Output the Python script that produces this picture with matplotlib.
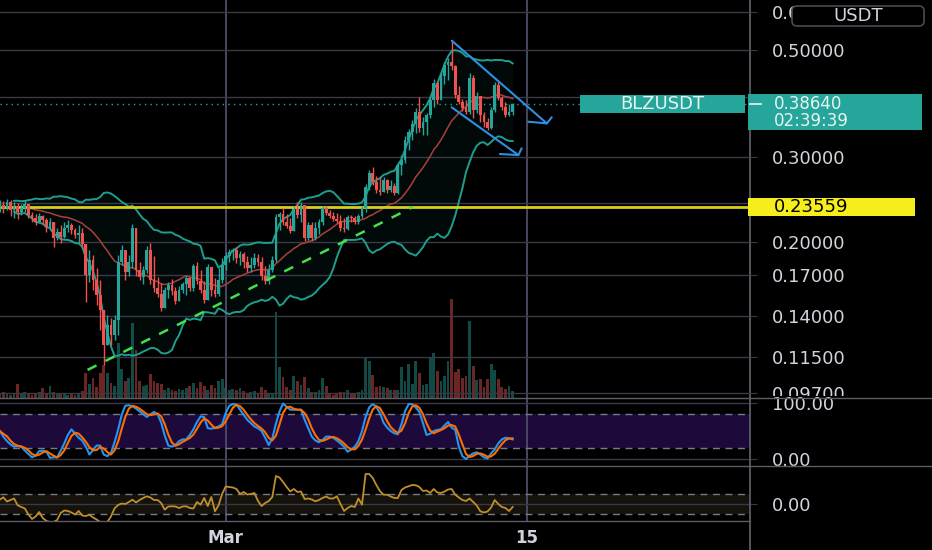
import numpy as np
import pandas as pd
import matplotlib
matplotlib.use("Agg")
import matplotlib.pyplot as plt
import matplotlib.dates as mdates
from matplotlib.lines import Line2D
from matplotlib.patches import Rectangle, FancyBboxPatch
from matplotlib.transforms import IdentityTransform, Bbox, TransformedBbox
from matplotlib.ticker import NullLocator

# 4h candles, BLZ/USDT, from 2021-02-18 12:00
open_first = 0.2348
close = np.array([0.2382,0.2348,0.2416,0.2325,0.2370,0.2303,0.2348,0.2393,0.2270,0.2238,0.2196,0.2260,0.2217,0.2144,0.2196,0.2034,0.2093,0.2044,0.2133,0.2164,0.2113,0.2063,0.2083,0.1976,0.1704,0.1831,0.1664,0.1548,0.1441,0.1219,0.1341,0.1279,0.1374,0.1813,0.1920,0.1728,0.1813,0.2133,0.1745,0.1688,0.1745,0.1920,0.1664,0.1601,0.1556,0.1455,0.1586,0.1624,0.1578,0.1505,0.1586,0.1632,0.1680,0.1601,0.1779,0.1656,0.1586,0.1512,0.1770,0.1586,0.1556,0.1664,0.1787,0.1866,0.1902,0.1920,0.1848,0.1884,0.1813,0.1762,0.1787,0.1848,0.1813,0.1696,0.1656,0.1745,0.1831,0.2249,0.2281,0.2196,0.2154,0.2103,0.2337,0.2270,0.2382,0.2034,0.2164,0.2034,0.2133,0.2196,0.2348,0.2292,0.2260,0.2227,0.2206,0.2133,0.2123,0.2249,0.2238,0.2196,0.2260,0.2348,0.2596,0.2776,0.2659,0.2559,0.2535,0.2684,0.2559,0.2608,0.2522,0.2884,0.2954,0.3251,0.3377,0.3509,0.3717,0.3443,0.3543,0.3664,0.3936,0.4270,0.3936,0.4415,0.4654,0.4721,0.4632,0.4031,0.3899,0.3788,0.3717,0.4373,0.3752,0.4012,0.3664,0.3543,0.3443,0.3752,0.4229,0.3974,0.3807,0.3664,0.3717,0.3864])
high = np.array([0.2439,0.2428,0.2451,0.2439,0.2416,0.2405,0.2393,0.2439,0.2393,0.2303,0.2281,0.2292,0.2270,0.2238,0.2238,0.2196,0.2133,0.2164,0.2196,0.2217,0.2185,0.2133,0.2164,0.2133,0.1976,0.1920,0.1875,0.1762,0.1664,0.1441,0.1407,0.1387,0.1407,0.1875,0.1967,0.1920,0.1875,0.2175,0.2133,0.1813,0.1779,0.1957,0.1986,0.1866,0.1688,0.1640,0.1609,0.1648,0.1672,0.1609,0.1616,0.1648,0.1696,0.1688,0.1796,0.1813,0.1745,0.1656,0.1796,0.1770,0.1680,0.1762,0.1848,0.1902,0.1930,0.1939,0.1948,0.1911,0.1902,0.1866,0.1857,0.1893,0.1884,0.1857,0.1779,0.1796,0.1866,0.2281,0.2303,0.2348,0.2281,0.2238,0.2370,0.2416,0.2416,0.2382,0.2196,0.2196,0.2196,0.2227,0.2370,0.2370,0.2325,0.2303,0.2292,0.2270,0.2238,0.2270,0.2270,0.2260,0.2281,0.2370,0.2633,0.2816,0.2857,0.2736,0.2723,0.2723,0.2697,0.2684,0.2646,0.2926,0.3025,0.3313,0.3426,0.3577,0.3788,0.3993,0.3629,0.3699,0.4012,0.4352,0.4290,0.4500,0.4721,0.4812,0.5245,0.4654,0.4209,0.3955,0.3936,0.4479,0.4436,0.4090,0.4012,0.3717,0.3611,0.3807,0.4290,0.4290,0.4012,0.3899,0.3862,0.3880])
low = np.array([0.2303,0.2292,0.2325,0.2260,0.2238,0.2227,0.2270,0.2303,0.2238,0.2196,0.2164,0.2185,0.2175,0.2093,0.2113,0.1948,0.2014,0.1986,0.2034,0.2093,0.2073,0.2034,0.1986,0.1939,0.1497,0.1648,0.1586,0.1476,0.1310,0.1108,0.1219,0.1219,0.1248,0.1279,0.1787,0.1664,0.1696,0.1762,0.1696,0.1664,0.1632,0.1720,0.1632,0.1571,0.1534,0.1434,0.1455,0.1526,0.1548,0.1483,0.1505,0.1563,0.1548,0.1578,0.1578,0.1632,0.1563,0.1490,0.1512,0.1541,0.1534,0.1541,0.1640,0.1745,0.1813,0.1831,0.1805,0.1787,0.1762,0.1728,0.1728,0.1762,0.1779,0.1664,0.1632,0.1632,0.1728,0.1813,0.2113,0.2164,0.2133,0.2083,0.2103,0.2238,0.2196,0.2005,0.2014,0.2005,0.2014,0.2073,0.2164,0.2270,0.2238,0.2206,0.2185,0.2103,0.2093,0.2113,0.2196,0.2175,0.2175,0.2238,0.2303,0.2559,0.2621,0.2522,0.2498,0.2535,0.2522,0.2535,0.2498,0.2510,0.2749,0.2912,0.3099,0.3251,0.3361,0.3377,0.3329,0.3329,0.3611,0.3807,0.3862,0.3936,0.4249,0.4331,0.4544,0.3974,0.3862,0.3734,0.3681,0.3681,0.3611,0.3699,0.3543,0.3459,0.3410,0.3426,0.3717,0.3936,0.3752,0.3629,0.3646,0.3664])
opens = np.r_[open_first, close[:-1]]

# volume, millions
volume = np.array([0.4,0.6,0.5,0.3,0.5,1.4,0.4,0.6,0.5,0.3,0.4,0.6,1.0,0.5,1.2,0.6,0.4,0.5,0.4,0.3,
                   0.4,0.3,0.4,0.7,2.5,1.4,2.0,1.1,2.5,3.3,2.5,1.5,1.2,5.5,2.9,1.7,2.0,7.5,4.8,1.7,
                   1.2,1.3,2.4,1.7,1.5,1.4,0.8,1.0,0.8,0.7,0.9,0.8,1.0,1.2,1.5,1.0,1.6,1.2,0.8,1.3,
                   1.0,1.7,1.9,1.0,0.8,0.9,0.8,1.0,0.7,0.5,0.6,0.7,0.5,1.1,0.8,0.5,0.5,8.6,3.1,2.1,
                   1.1,0.8,2.2,1.7,1.3,2.1,1.0,0.6,0.6,0.8,2.0,1.2,0.5,0.3,0.4,0.6,0.6,0.8,0.5,0.5,
                   0.6,0.8,4.0,3.7,2.3,1.1,1.2,1.1,1.0,0.8,0.8,0.8,3.1,1.7,3.4,1.4,3.7,2.5,1.3,1.4,
                   4.0,4.5,2.7,1.7,2.2,3.7,9.9,2.6,2.9,2.0,2.2,7.7,3.2,1.8,1.9,1.1,1.9,3.4,2.8,1.9,
                   1.1,0.9,1.2,0.7])

stoch_k = np.array([50,40,32,26,22,23,22,15,9,3,6,14,15,13,2,3,3,15,28,43,
                    53,45,38,33,22,8,16,24,24,8,5,11,30,52,79,95,96,94,90,85,
                    80,75,80,84,80,65,42,24,22,25,32,35,35,43,53,66,76,75,55,54,
                    56,58,62,82,95,98,97,88,79,70,64,58,55,50,38,25,37,63,85,99,
                    93,88,88,88,88,70,55,40,33,30,34,40,40,38,33,28,22,13,17,22,
                    32,50,75,92,98,93,82,65,56,50,46,44,62,85,98,98,92,84,64,43,
                    45,50,52,53,60,66,56,52,22,5,0,6,10,12,8,3,1,10,17,28,
                    35,38,37,35], float)

cci = np.array([43,67,25,40,55,-13,-30,-45,-105,-150,-125,-80,-140,-170,-180,-180,-160,-90,-65,-70,
                -85,-105,-70,-115,-120,-107,-135,-155,-180,-185,-180,-125,-45,-10,5,0,20,43,15,40,
                60,77,65,40,40,10,-57,-25,-23,-25,-40,-25,-23,-40,-45,20,-7,60,-20,70,
                -73,-13,100,175,170,165,150,100,120,95,100,110,30,-20,10,30,70,280,265,220,
                170,125,150,120,125,50,55,45,27,40,60,75,55,55,77,0,-70,-40,-20,-30,
                55,-7,300,300,260,190,130,93,93,75,60,60,140,165,177,190,188,170,130,135,
                110,150,115,110,125,145,150,93,65,40,30,55,20,-15,-73,-85,-75,-35,40,0,
                -30,-40,-70,-30], float)

price_ticks = [0.6, 0.5, 0.4, 0.3, 0.24, 0.2, 0.17, 0.14, 0.115, 0.097]
hidden_ticks = [0.4, 0.24]
level = 0.23559
last_price = close[-1]
countdown = "02:39:39"
symbol = "BLZUSDT"
# drawings: (days after Mar 1, price)
upper_channel = [(10.51, 0.5227), (14.92, 0.352)]
upper_arrow = [(14.06, 0.3548), (14.92, 0.352), (15.15, 0.3624)]
lower_channel = [(10.50, 0.3801), (13.60, 0.3025)]
lower_arrow = [(12.74, 0.304), (13.60, 0.3025), (13.75, 0.3124)]
trend_line = [(-6.42, 0.1082), (8.70, 0.2359)]

UP, DOWN = "#26a69a", "#ef5350"
GRID = "#3a3a47"
SEP = "#5c5c66"
TXT = "#d1d4dc"
W, H = 932, 550
FS = 13

dates = pd.date_range("2021-02-18 12:00", periods=len(close), freq="4h")
xd = mdates.date2num(dates)
mar1 = mdates.date2num(pd.Timestamp("2021-03-01"))
mar15 = mdates.date2num(pd.Timestamp("2021-03-15"))

plt.rcParams["font.family"] = ["DejaVu Sans"]
fig = plt.figure(figsize=(W / 100, H / 100), dpi=100, facecolor="black")


def rect(x0, y0, x1, y1):
    return [x0 / W, 1 - y1 / H, (x1 - x0) / W, (y1 - y0) / H]


ax = fig.add_axes(rect(0, 0, 750, 398))
axS = fig.add_axes(rect(0, 398, 750, 466), sharex=ax)
axC = fig.add_axes(rect(0, 466, 750, 521), sharex=ax)
vax = ax.twinx()
ax.set_zorder(2)
vax.set_zorder(1)
ax.patch.set_visible(False)
vax.patch.set_visible(False)

for a in (ax, axS, axC, vax):
    for s in a.spines.values():
        s.set_visible(False)
for a in (axS, axC):
    a.set_facecolor("black")

ax.set_xlim(mar1 - 10.488, mar1 + 24.363)

# volume underlay
cols = np.where(close >= opens, UP, DOWN)
vax.bar(xd, volume, width=0.13, color=cols, alpha=0.45, lw=0)
vax.set_ylim(0, volume.max() * 4.02)
vax.set_yticks([])

# bollinger bands (20, 2) and basis
s = pd.Series(close)
basis = s.rolling(20, min_periods=5).mean()
dev = s.rolling(20, min_periods=5).std(ddof=0)
upper = basis + 2 * dev
lower = basis - 2 * dev
ax.fill_between(xd, lower, upper, color="#26a69a", alpha=0.06, lw=0)
ax.plot(xd, upper, color="#1f9e8d", lw=1.4)
ax.plot(xd, lower, color="#1f9e8d", lw=1.4)
ax.plot(xd, basis, color="#a8413c", lw=1.1)

# candles
ax.vlines(xd, low, high, colors=cols, lw=1, zorder=3)
ax.bar(xd, np.abs(close - opens), bottom=np.minimum(opens, close), width=0.13,
       color=cols, lw=0, zorder=3)

ax.axhline(level, color="#d8cf1d", lw=2, zorder=2)
ax.axhline(last_price, color=UP, lw=1, ls=(0, (1, 3)), zorder=2)


def seg(points, **kw):
    ax.plot([mar1 + d for d, _ in points], [p for _, p in points], **kw)


seg(trend_line, color="#45e04a", lw=1.8, ls=(0, (4, 4)), zorder=4)
for pts in (upper_channel, upper_arrow, lower_channel, lower_arrow):
    seg(pts, color="#2f8fe0", lw=1.5, zorder=4, solid_capstyle="round")

ax.set_yscale("log")
ax.set_ylim(0.0946, 0.6352)
ax.yaxis.set_minor_locator(NullLocator())
ax.set_yticks(price_ticks)
ax.set_yticklabels(["" if t in hidden_ticks else f"{t:.5f}" for t in price_ticks])

# stochastic rsi
stoch_d = pd.Series(stoch_k).rolling(3, min_periods=1).mean()
axS.axhspan(20, 80, color="#1d0a3a", lw=0)
for v in (20, 80):
    axS.axhline(v, color="#787b86", lw=1, ls=(0, (5, 4)))
axS.plot(xd, stoch_k, color="#2196f3", lw=1.5)
axS.plot(xd, stoch_d, color="#ff6d00", lw=1.5)
axS.set_ylim(-12.5, 108.9)
axS.set_yticks([0, 100])
axS.set_yticklabels(["0.00", "100.00"])

# cci
axC.axhspan(-100, 100, color="#14120a", lw=0)
for v in (-100, 100):
    axC.axhline(v, color="#787b86", lw=1, ls=(0, (5, 4)))
axC.plot(xd, cci, color="#c08f2b", lw=1.3)
axC.set_ylim(-170, 380)
axC.set_yticks([0])
axC.set_yticklabels(["0.00"])

for a in (ax, axS, axC):
    a.yaxis.tick_right()
    a.grid(axis="y", color=GRID, lw=1)
    a.grid(axis="x", visible=False)
    a.tick_params(axis="y", length=5, color=GRID, pad=11, labelsize=FS, labelcolor=TXT)
    a.tick_params(axis="x", length=0)
    for d in (mar1, mar15):
        a.axvline(d, color="#4d4d6a", lw=1.3, zorder=1)
ax.tick_params(axis="x", labelbottom=False)
axS.tick_params(axis="x", labelbottom=False)
axC.set_xticks([mar1, mar15])
axC.set_xticklabels(["Mar", "15"], fontweight="bold")
axC.tick_params(axis="x", labelsize=12, labelcolor=TXT, pad=6)

# pane separators
for y, x1 in ((398, W), (466, W), (521, 750)):
    fig.add_artist(Line2D([0, x1], [H - y, H - y], transform=IdentityTransform(),
                          color=SEP, lw=1))
fig.add_artist(Line2D([750, 750], [0, H], transform=IdentityTransform(), color=SEP, lw=1.3))


def row(p):
    return ax.transData.transform((ax.get_xlim()[0], p))[1]


yl = row(last_price)
fig.add_artist(Rectangle((580, yl - 9), 165, 18, transform=IdentityTransform(),
                         fc="#26a69a", ec="none", zorder=5))
fig.text(662 / W, yl / H, symbol, color="#e6f4f1", ha="center", va="center",
         fontsize=FS, zorder=6)
fig.add_artist(Rectangle((748, yl - 26), 174, 36, transform=IdentityTransform(),
                         fc="#26a69a", ec="none", zorder=5))
fig.add_artist(Line2D([750, 761], [yl, yl], transform=IdentityTransform(),
                      color="#e6f4f1", lw=1.2, zorder=6))
fig.text(774 / W, yl / H, f"{last_price:.5f}", color="#e6f4f1", ha="left", va="center",
         fontsize=12, zorder=6)
fig.text(774 / W, (yl - 17) / H, countdown, color="#e6f4f1", ha="left", va="center",
         fontsize=12, zorder=6)

yy = row(level)
fig.add_artist(Rectangle((748, yy - 9), 167, 18, transform=IdentityTransform(),
                         fc="#f5ee1c", ec="none", zorder=5))
fig.text(774 / W, yy / H, f"{level:.5f}", color="black", ha="left", va="center",
         fontsize=FS, zorder=6)

fig.add_artist(FancyBboxPatch((792, H - 26), 132, 20, transform=IdentityTransform(),
                              boxstyle="round,pad=0,rounding_size=5",
                              fc="black", ec="#4a4a52", lw=1.2, zorder=5))
fig.text(858 / W, (H - 16) / H, "USDT", color=TXT, ha="center", va="center",
         fontsize=FS, zorder=6)

# bottom price label is cut by the pane edge, as on the reference
fig.canvas.draw()
clip = TransformedBbox(Bbox.from_extents(0, H - 396, W, H), IdentityTransform())
for lbl in ax.yaxis.get_ticklabels(which="both"):
    lbl.set_clip_box(clip)
    lbl.set_clip_on(True)

fig.savefig("out.png", dpi=100, facecolor="black")
